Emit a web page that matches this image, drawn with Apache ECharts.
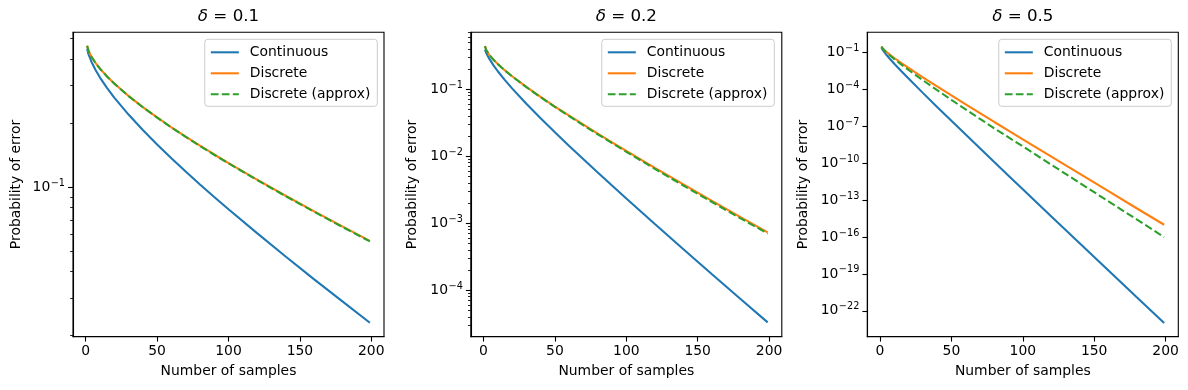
<!DOCTYPE html>
<html><head><meta charset="utf-8">
<script src="https://cdn.jsdelivr.net/npm/echarts@6/dist/echarts.min.js"></script>
<style>html,body{margin:0;padding:0;background:#fff}#c{width:1188px;height:390px}</style>
</head><body><div id="c"></div>
<script>
// ---------------- data ----------------
const samples = [1, 2, 4, 7, 10, 15, 20, 30, 40, 50, 60, 70, 80, 90, 100, 120, 140, 160, 180, 199];
const deltaLabels = ['0.1', '0.2', '0.5'];
const seriesNames = ['Continuous', 'Discrete', 'Discrete (approx)'];

const cont01   = [0.447, 0.4207, 0.3886, 0.3541, 0.3274, 0.2920, 0.2635, 0.2193, 0.1855, 0.1587, 0.1367, 0.1184, 0.1029, 0.0898, 0.0786, 0.0607, 0.0471, 0.0368, 0.0289, 0.0230];
const disc01   = [0.462, 0.4366, 0.4108, 0.3827, 0.3606, 0.3311, 0.3070, 0.2683, 0.2378, 0.2125, 0.1911, 0.1727, 0.1565, 0.1423, 0.1297, 0.1083, 0.0910, 0.0768, 0.0651, 0.0558];
const approx01 = [0.462, 0.4362, 0.4104, 0.3823, 0.3602, 0.3307, 0.3066, 0.2679, 0.2374, 0.2121, 0.1907, 0.1723, 0.1561, 0.1419, 0.1293, 0.1079, 0.0906, 0.0765, 0.0648, 0.0555];

const cont02   = [0.389, 0.3446, 0.2858, 0.2271, 0.1855, 0.1367, 0.1029, 0.0607, 0.0368, 0.02275, 0.01423, 0.00898, 0.00571, 0.00364, 0.00234, 0.000973, 0.000409, 0.000173, 0.0000739, 0.0000330];
const disc02   = [0.44, 0.382, 0.3259, 0.2752, 0.2377, 0.1910, 0.1564, 0.1082, 0.0767, 0.0552, 0.0402, 0.0295, 0.02176, 0.01614, 0.0120, 0.00671, 0.00379, 0.00216, 0.00123, 0.000730];
const approx02 = [0.44, 0.382, 0.3255, 0.2748, 0.2372, 0.1904, 0.1556, 0.1073, 0.0759, 0.0544, 0.0395, 0.0289, 0.02122, 0.01568, 0.01164, 0.00648, 0.00364, 0.00207, 0.00118, 0.000700];

const cont05   = [0.25, 0.1587, 0.0786, 0.0307, 0.01267, 0.00308, 0.000783, 5.38e-5, 3.87e-6, 2.87e-7, 2.16e-8, 1.65e-9, 1.27e-10, 9.85e-12, 7.69e-13, 4.74e-15, 2.96e-17, 1.87e-19, 1.19e-21, 1.0e-23];
const disc05   = [0.32, 0.2125, 0.1296, 0.0678, 0.0372, 0.01444, 0.00582, 0.00100, 1.80e-4, 3.31e-5, 6.3e-6, 1.2e-6, 2.3e-7, 4.5e-8, 9.0e-9, 3.5e-10, 1.37e-11, 5.4e-13, 2.1e-14, 1.0e-15];
const approx05 = [0.32, 0.2076, 0.1209, 0.0590, 0.0302, 0.0107, 0.00393, 0.000575, 9.0e-5, 1.45e-5, 2.41e-6, 4.1e-7, 7.1e-8, 1.3e-8, 2.37e-9, 7.7e-11, 2.44e-12, 8.0e-14, 2.6e-15, 1.0e-16];

// tick labels
const xTicks = [0, 50, 100, 150, 200];
const yMajorExp01 = [-1];
const yMajorExp02 = [-1, -2, -3, -4];
const yMajorExp05 = [-1, -4, -7, -10, -13, -16, -19, -22];
const yMinor01 = [0.02, 0.03, 0.04, 0.05, 0.06, 0.07, 0.08, 0.09, 0.2, 0.3, 0.4, 0.5];
const yMinor02 = [3e-5, 4e-5, 5e-5, 6e-5, 7e-5, 8e-5, 9e-5,
  2e-4, 3e-4, 4e-4, 5e-4, 6e-4, 7e-4, 8e-4, 9e-4,
  2e-3, 3e-3, 4e-3, 5e-3, 6e-3, 7e-3, 8e-3, 9e-3,
  2e-2, 3e-2, 4e-2, 5e-2, 6e-2, 7e-2, 8e-2, 9e-2,
  0.2, 0.3, 0.4, 0.5, 0.6, 0.7];
const yMinor05 = [];

// ---------------- layout / style ----------------
const FONT = 'DejaVu Sans';
const COLORS = ['#1f77b4', '#ff7f0e', '#2ca02c'];
const LW = 2.08;
const GRID_TOP = 32.3, GRID_H = 304.4, GRID_W = 311;
const X_MIN = -8.9, X_MAX = 208.9;

const panels = [
  { delta: deltaLabels[0], data: [cont01, disc01, approx01], yMin: -1.704, yMax: -0.272, major: yMajorExp01, minor: yMinor01, left: 73,    nameGap: 50, legendRight: 810.7 },
  { delta: deltaLabels[1], data: [cont02, disc02, approx02], yMin: -4.695, yMax: -0.150, major: yMajorExp02, minor: yMinor02, left: 470.8, nameGap: 51, legendRight: 413.7 },
  { delta: deltaLabels[2], data: [cont05, disc05, approx05], yMin: -24.11, yMax: 0.66,  major: yMajorExp05, minor: yMinor05, left: 867.3, nameGap: 57, legendRight: 16.7 }
];

const grid = [], xAxis = [], yAxis = [], series = [], title = [], legend = [];
panels.forEach((p, i) => {
  grid.push({ left: p.left, top: GRID_TOP, width: GRID_W, height: GRID_H, show: true, borderColor: '#000', borderWidth: 1.1, containLabel: false });
  xAxis.push({
    type: 'value', gridIndex: i, min: X_MIN, max: X_MAX, position: 'bottom',
    name: 'Number of samples', nameLocation: 'middle', nameGap: 28,
    nameTextStyle: { fontFamily: FONT, fontSize: 13.9, color: '#000' },
    axisLine: { show: true, onZero: false, lineStyle: { color: '#000', width: 1.1 } },
    axisTick: { show: true, length: 4.9, customValues: xTicks, lineStyle: { color: '#000', width: 1.1 } },
    axisLabel: { customValues: xTicks, margin: 8, fontFamily: FONT, fontSize: 13.9, color: '#000' },
    splitLine: { show: false }
  });
  const yi = yAxis.length;
  yAxis.push({
    type: 'value', gridIndex: i, min: p.yMin, max: p.yMax, position: 'left', offset: 0,
    name: 'Probability of error', nameLocation: 'middle', nameGap: p.nameGap,
    nameTextStyle: { fontFamily: FONT, fontSize: 13.9, color: '#000' },
    axisLine: { show: true, onZero: false, lineStyle: { color: '#000', width: 1.1 } },
    axisTick: { show: true, length: 4.9, customValues: p.major, lineStyle: { color: '#000', width: 1.1 } },
    axisLabel: {
      customValues: p.major, margin: 8,
      formatter: v => '{b|10}{s|\u2212' + Math.round(-v) + '}',
      rich: {
        b: { fontFamily: FONT, fontSize: 13.9, color: '#000', lineHeight: 16 },
        s: { fontFamily: FONT, fontSize: 9.7, color: '#000', lineHeight: 10, padding: [0, 0, 8, 0.5] }
      }
    },
    splitLine: { show: false }
  });
  // minor ticks axis (same scale, left side)
  yAxis.push({
    type: 'value', gridIndex: i, min: p.yMin, max: p.yMax, position: 'left', offset: 0,
    axisLine: { show: false, onZero: false },
    axisTick: { show: p.minor.length > 0, inside: false, length: 2.8, customValues: p.minor.map(m => Math.log10(m)), lineStyle: { color: '#000', width: 0.85 } },
    axisLabel: { show: false },
    splitLine: { show: false }
  });
  p.data.forEach((arr, k) => {
    series.push({
      type: 'line', name: seriesNames[k], xAxisIndex: i, yAxisIndex: yi,
      data: samples.map((n, j) => [n, Math.log10(arr[j])]),
      symbol: 'none', smooth: false, clip: true, silent: true,
      lineStyle: { color: COLORS[k], width: LW, type: k === 2 ? [7.7, 3.3] : 'solid' },
      itemStyle: { color: COLORS[k] },
      z: 2 + k
    });
  });
  title.push({
    text: '{i|\u03b4} = ' + p.delta,
    left: p.left + GRID_W / 2, top: 8.5, textAlign: 'center', padding: 0,
    textStyle: { fontFamily: FONT, fontSize: 16.7, fontWeight: 'normal', color: '#000',
      rich: { i: { fontFamily: FONT, fontSize: 16.7, fontStyle: 'italic', color: '#000' } } }
  });
  legend.push({
    data: seriesNames, orient: 'vertical', right: p.legendRight, top: 39.3,
    itemWidth: 28, itemHeight: 14, itemGap: 7, padding: [6, 7, 5, 5],
    backgroundColor: 'rgba(255,255,255,0.8)', borderColor: '#cccccc', borderWidth: 1, borderRadius: 3,
    selectedMode: false,
    itemStyle: { opacity: 0 },
    lineStyle: { width: LW },
    textStyle: { fontFamily: FONT, fontSize: 13.9, color: '#000', padding: [0, 0, 0, 6] }
  });
});

const chart = echarts.init(document.getElementById('c'), null, { renderer: 'canvas' });
chart.setOption({ animation: false, backgroundColor: '#fff', grid, xAxis, yAxis, series, title, legend });
</script></body></html>
